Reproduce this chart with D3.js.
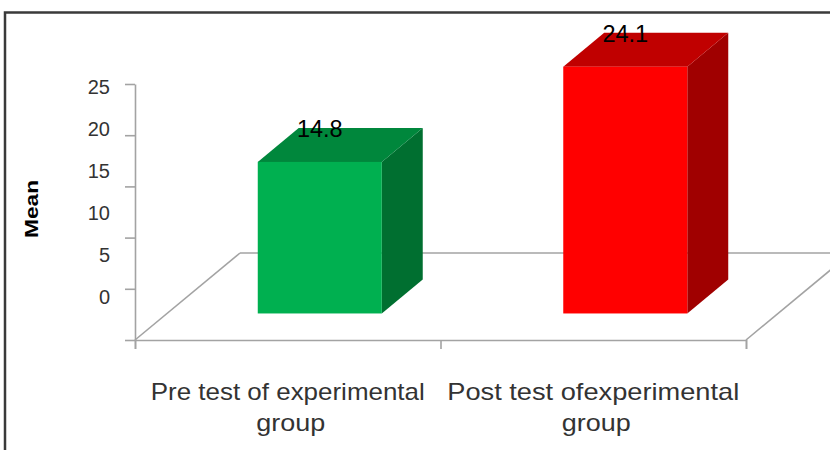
<!DOCTYPE html>
<html>
<head>
<meta charset="utf-8">
<script src="https://cdn.jsdelivr.net/npm/d3@7"></script>
<style>
  html, body { margin: 0; padding: 0; background: #fff; }
  svg { display: block; font-family: "Liberation Sans", Arial, sans-serif; }
</style>
</head>
<body>
<svg id="chart" width="830" height="450"></svg>
<script>
// Mean scores, pre and post test of the experimental group
const categories = ["Pre test of experimental group", "Post test ofexperimental group"];
const categoryLines = [["Pre test of experimental", "group"], ["Post test ofexperimental", "group"]];
const values = [14.8, 24.1];
const yTicks = [0, 5, 10, 15, 20, 25];
const frontColors = ["#00b050", "#ff0000"];
const topColors = ["#00873c", "#c00000"];
const sideColors = ["#006f30", "#a00000"];

const svg = d3.select("#chart");

// layout of the 3-D box
const plotLeft = 135, plotRight = 746, floorFront = 340, axisTop = 84;
const depthX = 105, depthSlope = 87 / 105;
const depth = t => [t * depthX, -t * depthX * depthSlope];
const gridColor = "#a3a3a3";
const textColor = "#333";

// outer frame
svg.append("rect")
  .attr("x", 5).attr("y", 12.5)
  .attr("width", 900).attr("height", 500)
  .attr("fill", "#fff")
  .attr("stroke", "#3a3a3a").attr("stroke-width", 2.5);

const y = d3.scaleLinear().domain([0, 25]).range([floorFront, axisTop]);
const yLabel = d3.scaleLinear().domain([0, 25]).range([297, 87]);
const x = d3.scaleBand().domain(categories).range([plotLeft, plotRight]).padding(0);
const bw = x.bandwidth();

// floor outline (left side, back edge, right side)
const back = depth(1);
const floorLines = [
  [[plotLeft, floorFront], [plotLeft + back[0], floorFront + back[1]]],
  [[plotLeft + back[0], floorFront + back[1]], [plotRight + back[0], floorFront + back[1]]],
  [[plotRight, floorFront], [plotRight + back[0], floorFront + back[1]]]
];
svg.append("g").selectAll("path").data(floorLines).join("path")
  .attr("d", d => d3.line()(d))
  .attr("fill", "none")
  .attr("stroke", gridColor).attr("stroke-width", 1.6);

// value axis
const yAxis = svg.append("g")
  .attr("transform", `translate(${plotLeft},0)`)
  .call(d3.axisLeft(y).tickValues(yTicks).tickSize(10).tickSizeOuter(0).tickFormat(""));
yAxis.select(".domain").attr("stroke", gridColor).attr("stroke-width", 1.6);
yAxis.selectAll(".tick line").attr("stroke", gridColor).attr("stroke-width", 1.6);

svg.append("g").selectAll("text").data(yTicks).join("text")
  .attr("x", 110)
  .attr("y", d => yLabel(d))
  .attr("dy", "0.36em")
  .attr("text-anchor", "end")
  .attr("font-size", 20)
  .attr("fill", textColor)
  .text(d => d);

// category axis along the front edge of the floor
const xAxisScale = d3.scaleLinear().domain([0, categories.length]).range([plotLeft, plotRight]);
svg.append("g")
  .attr("transform", `translate(0,${floorFront})`)
  .call(d3.axisBottom(xAxisScale).ticks(categories.length).tickSize(9).tickSizeOuter(9).tickFormat(""))
  .call(g => g.select(".domain").attr("stroke", gridColor).attr("stroke-width", 1.6))
  .call(g => g.selectAll(".tick line").attr("stroke", gridColor).attr("stroke-width", 1.6));

// bars: front face, top, right side
const barFront = depth(0.305);
const barDepth = depth(0.39);
const barW = bw * 0.406;
const bars = values.map((v, i) => {
  const cx = x(categories[i]) + bw / 2 + barFront[0];
  const x0 = cx - barW / 2, x1 = cx + barW / 2;
  const yb = y(0) + barFront[1], yt = y(v) + barFront[1];
  return { v, i, cx, x0, x1, yb, yt };
});
const [dx, dy] = barDepth;
const gBars = svg.append("g");
gBars.selectAll(".side").data(bars).join("path").attr("class", "side")
  .attr("d", b => `M${b.x1},${b.yt}L${b.x1 + dx},${b.yt + dy}L${b.x1 + dx},${b.yb + dy}L${b.x1},${b.yb}Z`)
  .attr("fill", b => sideColors[b.i]);
gBars.selectAll(".top").data(bars).join("path").attr("class", "top")
  .attr("d", b => `M${b.x0},${b.yt}L${b.x1},${b.yt}L${b.x1 + dx},${b.yt + dy}L${b.x0 + dx},${b.yt + dy}Z`)
  .attr("fill", b => topColors[b.i]);
gBars.selectAll(".front").data(bars).join("rect").attr("class", "front")
  .attr("x", b => b.x0).attr("y", b => b.yt)
  .attr("width", barW).attr("height", b => b.yb - b.yt)
  .attr("fill", b => frontColors[b.i]);

// value labels
svg.append("g").selectAll("text").data(bars).join("text")
  .attr("x", b => b.cx)
  .attr("y", b => b.yt - 25)
  .attr("text-anchor", "middle")
  .attr("font-size", 23.5)
  .attr("fill", "#000")
  .text(b => b.v);

// category labels
const lineWidths = [[274, 69], [292, 69]];
const gCat = svg.append("g");
categoryLines.forEach((lines, i) => {
  lines.forEach((line, j) => {
    gCat.append("text")
      .attr("x", x(categories[i]) + bw / 2 + (j === 1 ? 3 : 0))
      .attr("y", 400 + j * 31)
      .attr("text-anchor", "middle")
      .attr("font-size", 24)
      .attr("textLength", lineWidths[i][j])
      .attr("lengthAdjust", "spacingAndGlyphs")
      .attr("fill", textColor)
      .text(line);
  });
});

// value axis title
svg.append("text")
  .attr("transform", "translate(38,209) rotate(-90)")
  .attr("text-anchor", "middle")
  .attr("font-size", 19)
  .attr("font-weight", "bold")
  .attr("textLength", 58)
  .attr("lengthAdjust", "spacingAndGlyphs")
  .attr("fill", "#000")
  .text("Mean");
</script>
</body>
</html>
